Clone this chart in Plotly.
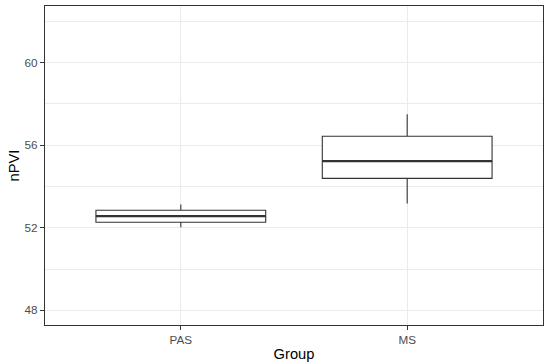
import plotly.graph_objects as go

groups = ["PAS", "MS"]
q1 = [52.27, 54.39]
median = [52.56, 55.23]
q3 = [52.85, 56.43]
lower = [52.02, 53.18]
upper = [53.13, 57.50]

y_ticks = [48, 52, 56, 60]
y_minor = [50, 54, 58, 62]

pos = [i + 1 for i in range(len(groups))]
box_w = 0.75

fig = go.Figure()
fig.add_trace(go.Box(
    x=pos, q1=q1, median=median, q3=q3, lowerfence=lower, upperfence=upper,
    width=box_w, whiskerwidth=0, fillcolor="white",
    line=dict(color="#333333", width=1.1), boxpoints=False, showlegend=False,
    hoverinfo="skip"))
for p, m in zip(pos, median):
    fig.add_trace(go.Scatter(
        x=[p - box_w / 2, p + box_w / 2], y=[m, m], mode="lines",
        line=dict(color="#333333", width=2.2), showlegend=False, hoverinfo="skip"))

font = "Liberation Sans, Arial, sans-serif"
fig.update_layout(
    width=550, height=364,
    margin=dict(l=45, r=7, t=6, b=39),
    paper_bgcolor="white", plot_bgcolor="white",
    font=dict(family=font),
    xaxis=dict(
        range=[0.4, 2.6], tickvals=pos, ticktext=groups,
        showgrid=True, gridcolor="#EBEBEB", gridwidth=1.1,
        zeroline=False, showline=True, mirror=True, linecolor="#333333", linewidth=1.1,
        ticks="outside", ticklen=4, tickcolor="#333333", tickwidth=1.1,
        tickfont=dict(size=11.7, color="#4D4D4D", family=font),
        title=dict(text="Group", font=dict(size=14.7, color="black", family=font), standoff=3),
        automargin=False,
    ),
    yaxis=dict(
        range=[47.29, 62.74], tickvals=y_ticks,
        showgrid=True, gridcolor="#EBEBEB", gridwidth=1.1,
        minor=dict(tickvals=y_minor, showgrid=True, gridcolor="#EBEBEB", gridwidth=0.55, ticks=""),
        zeroline=False, showline=True, mirror=True, linecolor="#333333", linewidth=1.1,
        ticks="outside", ticklen=4, tickcolor="#333333", tickwidth=1.1,
        tickfont=dict(size=11.7, color="#4D4D4D", family=font),
        title=dict(text="nPVI", font=dict(size=14.7, color="black", family=font), standoff=1),
        automargin=False,
    ),
)
fig.write_html("out.html", config={"displayModeBar": False},
               post_script="document.body.style.margin='0';document.body.style.padding='0';")
